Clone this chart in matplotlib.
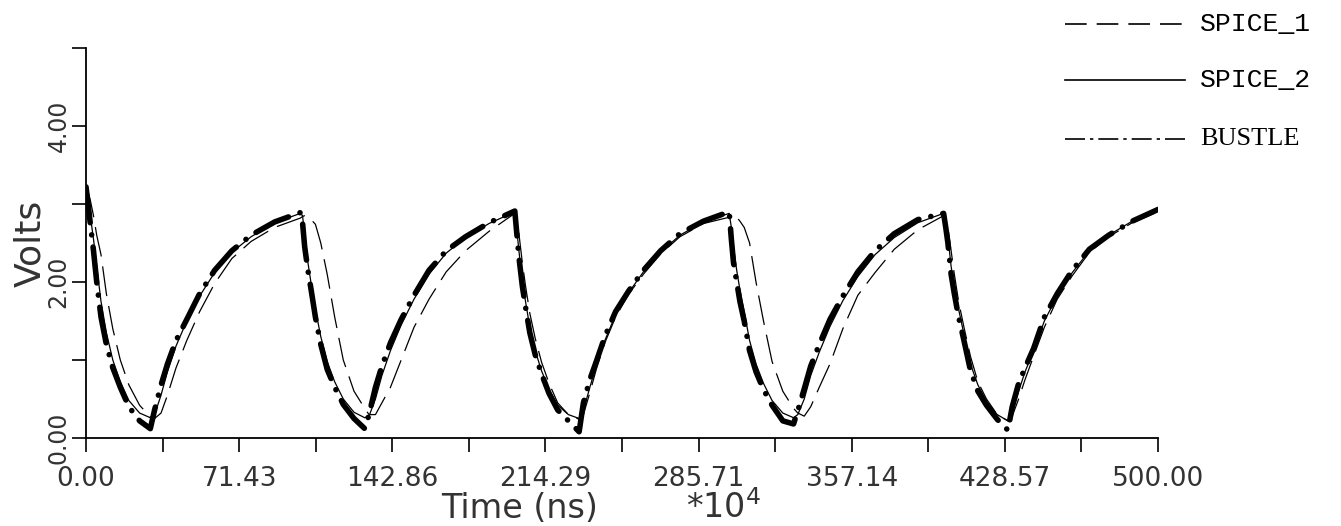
import matplotlib
matplotlib.use('Agg')
import matplotlib.pyplot as plt
from matplotlib.lines import Line2D

# time offsets inside one 100-unit cycle (x 10^4 ns)
offsets = [0, 1, 2, 3.5, 5, 7, 9.5, 12.5, 16, 20, 25, 30, 32, 35, 38, 42, 47, 53, 60, 68, 77, 88]
n_cycles = 5
t_end = 500
times = [100 * c + o for c in range(n_cycles) for o in offsets] + [t_end]

# BUSTLE (thick dash-dot)
bustle_cycles = [
    [3.22, 3.0, 2.75, 2.4, 2.0, 1.55, 1.2, 0.9, 0.65, 0.4, 0.22, 0.12, 0.36, 0.68, 0.95, 1.25, 1.52, 1.85, 2.15, 2.4, 2.6, 2.77],
    [2.89, 2.76, 2.45, 2.15, 1.9, 1.55, 1.2, 0.88, 0.65, 0.43, 0.25, 0.12, 0.3, 0.65, 0.92, 1.22, 1.52, 1.83, 2.15, 2.4, 2.58, 2.76],
    [2.91, 2.6, 2.3, 1.95, 1.68, 1.35, 1.07, 0.82, 0.57, 0.36, 0.22, 0.08, 0.45, 0.75, 0.98, 1.3, 1.62, 1.88, 2.15, 2.4, 2.62, 2.78],
    [2.9, 2.55, 2.25, 2.0, 1.75, 1.5, 1.12, 0.85, 0.62, 0.42, 0.22, 0.18, 0.35, 0.63, 0.92, 1.2, 1.52, 1.82, 2.13, 2.4, 2.62, 2.8],
    [2.88, 2.7, 2.5, 2.1, 1.85, 1.55, 1.25, 0.87, 0.6, 0.42, 0.24, 0.1, 0.4, 0.7, 0.9, 1.15, 1.55, 1.85, 2.15, 2.42, 2.6, 2.78],
]
bustle_last = 2.93

# SPICE_2 (thin solid, close to BUSTLE)
spice2_cycles = [
    [3.22, 3.05, 2.85, 2.55, 2.2, 1.75, 1.35, 1.0, 0.72, 0.48, 0.32, 0.26, 0.3, 0.55, 0.85, 1.18, 1.5, 1.82, 2.12, 2.38, 2.58, 2.76],
    [2.88, 2.85, 2.6, 2.25, 1.98, 1.65, 1.3, 0.98, 0.72, 0.5, 0.33, 0.26, 0.28, 0.5, 0.8, 1.12, 1.45, 1.78, 2.1, 2.37, 2.57, 2.75],
    [2.9, 2.65, 2.38, 2.02, 1.75, 1.42, 1.12, 0.86, 0.62, 0.42, 0.3, 0.25, 0.35, 0.65, 0.93, 1.25, 1.58, 1.86, 2.13, 2.38, 2.6, 2.77],
    [2.88, 2.7, 2.45, 2.15, 1.9, 1.62, 1.25, 0.95, 0.7, 0.48, 0.32, 0.26, 0.3, 0.5, 0.8, 1.1, 1.43, 1.76, 2.07, 2.35, 2.57, 2.76],
    [2.88, 2.75, 2.58, 2.2, 1.95, 1.65, 1.33, 0.95, 0.68, 0.47, 0.3, 0.22, 0.32, 0.6, 0.85, 1.12, 1.5, 1.82, 2.12, 2.4, 2.6, 2.78],
]
spice2_last = 2.92

# SPICE_1 (thin dashed, lagging)
spice1_cycles = [
    [3.2, 3.15, 3.05, 2.85, 2.6, 2.35, 1.85, 1.4, 1.0, 0.68, 0.42, 0.27, 0.25, 0.32, 0.55, 0.9, 1.25, 1.62, 1.98, 2.3, 2.52, 2.7],
    [2.82, 2.84, 2.85, 2.84, 2.8, 2.74, 2.5, 2.1, 1.55, 1.0, 0.6, 0.38, 0.3, 0.3, 0.45, 0.65, 1.0, 1.42, 1.78, 2.13, 2.4, 2.65],
    [2.88, 2.8, 2.6, 2.25, 1.95, 1.6, 1.28, 0.97, 0.7, 0.45, 0.3, 0.24, 0.3, 0.58, 0.88, 1.22, 1.55, 1.84, 2.1, 2.36, 2.58, 2.75],
    [2.83, 2.85, 2.85, 2.83, 2.78, 2.7, 2.5, 2.0, 1.5, 0.98, 0.6, 0.38, 0.32, 0.28, 0.4, 0.65, 0.95, 1.4, 1.83, 2.12, 2.42, 2.67],
    [2.85, 2.83, 2.7, 2.4, 2.1, 1.75, 1.42, 1.05, 0.72, 0.5, 0.3, 0.22, 0.28, 0.5, 0.75, 1.05, 1.42, 1.78, 2.08, 2.38, 2.58, 2.76],
]
spice1_last = 2.9

bustle = sum(bustle_cycles, []) + [bustle_last]
spice2 = sum(spice2_cycles, []) + [spice2_last]
spice1 = sum(spice1_cycles, []) + [spice1_last]

x_ticks = [i * 500 / 14 for i in range(15)]
x_labels = ['0.00', '', '71.43', '', '142.86', '', '214.29', '', '285.71', '', '357.14', '', '428.57', '', '500.00']
y_ticks = [0, 1, 2, 3, 4, 5]
y_labels = ['0.00', '', '2.00', '', '4.00', '']

legend_names = ['SPICE_1', 'SPICE_2', 'BUSTLE']

W, H = 1341, 526
fig = plt.figure(figsize=(W / 100, H / 100), dpi=100)
ax = fig.add_axes([86 / W, 1 - 438 / H, (1158 - 86) / W, (438 - 48) / H])

ax.plot(times, spice1, color='black', lw=0.9, linestyle=(0, (24, 8)))
ax.plot(times, spice2, color='black', lw=0.9)
ax.plot(times, bustle, color='black', lw=4.0, linestyle=(0, (6.5, 2.2, 0.01, 2.2)),
        dash_capstyle='round', solid_capstyle='round')

ax.set_xlim(0, 500)
ax.set_ylim(0, 5)
for s in ['top', 'right']:
    ax.spines[s].set_visible(False)
for s in ['left', 'bottom']:
    ax.spines[s].set_linewidth(1.3)

tick_col = '#333333'
ax.set_xticks(x_ticks)
ax.set_xticklabels(x_labels, fontsize=19, color=tick_col)
ax.set_yticks(y_ticks)
ax.set_yticklabels(y_labels, fontsize=17, color=tick_col)
ax.tick_params(axis='both', direction='out', length=10, width=1.2)
ax.tick_params(axis='x', pad=10)
ax.tick_params(axis='y', pad=1, labelrotation=90)
for lbl in ax.get_yticklabels():
    lbl.set_va('center')

fig.text(30 / W, 1 - 243 / H, 'Volts', fontsize=26, color=tick_col, rotation=90,
         ha='center', va='center')
fig.text(520 / W, 1 - 517.5 / H, 'Time (ns)', fontsize=24, color=tick_col,
         ha='center', va='baseline')
fig.text(686 / W, 1 - 517.5 / H, '*10$^{4}$', fontsize=24, color=tick_col,
         ha='left', va='baseline')

# legend drawn at the top right, outside the axes
leg_styles = [(0, (13, 6)), '-', (0, (12, 3, 2, 3))]
leg_y = [24, 80, 139]
leg_fonts = ['Liberation Mono', 'Liberation Mono', 'Liberation Serif']
for name, style, yy, fam in zip(legend_names, leg_styles, leg_y, leg_fonts):
    fig.add_artist(Line2D([1065 / W, 1185 / W], [1 - yy / H] * 2, transform=fig.transFigure,
                          color='black', lw=1.2, linestyle=style))
    fig.text(1200 / W, 1 - yy / H, name, fontsize=19, family=fam, color='black',
             ha='left', va='center')

fig.savefig('out.png', dpi=100)
